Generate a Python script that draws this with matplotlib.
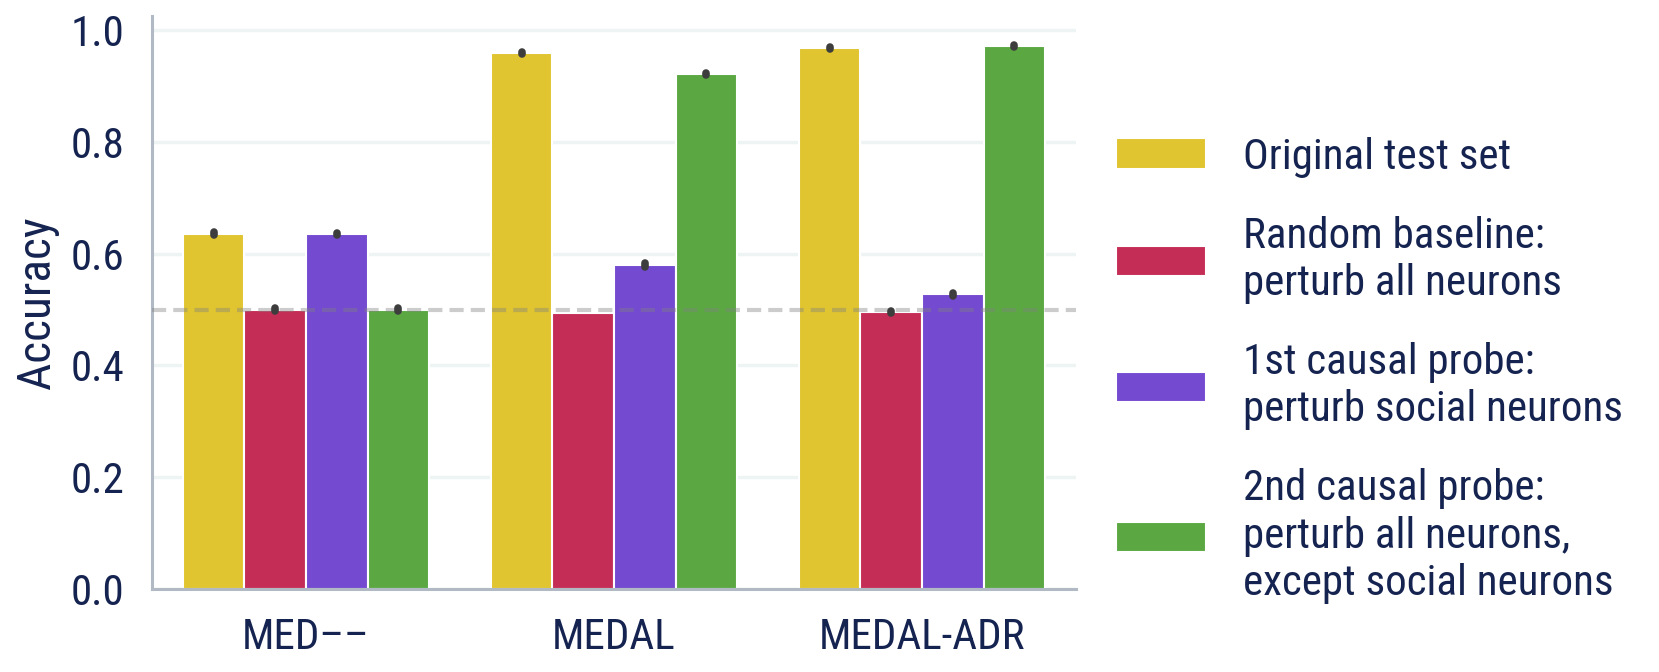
import matplotlib
matplotlib.use("Agg")
import matplotlib.pyplot as plt
from matplotlib import font_manager
import numpy as np

datasets = ["MED\u2013\u2013", "MEDAL", "MEDAL-ADR"]
conditions = [
    "Original test set",
    "Random baseline:\nperturb all neurons",
    "1st causal probe:\nperturb social neurons",
    "2nd causal probe:\nperturb all neurons,\nexcept social neurons",
]
original = [0.636, 0.959, 0.968]
random_base = [0.500, 0.494, 0.496]
probe1 = [0.635, 0.580, 0.527]
probe2 = [0.500, 0.921, 0.971]
# half-length of the (tiny) error bars, nan = not shown
err_original = [0.002, 0.002, 0.002]
err_random = [0.002, np.nan, 0.002]
err_probe1 = [0.002, 0.004, 0.003]
err_probe2 = [0.002, 0.002, 0.002]
chance = 0.5

colors = ["#e0c530", "#c42d56", "#744ad1", "#5ba843"]
text_color = "#152350"
spine_color = "#b1b9c4"

names = {f.name for f in font_manager.fontManager.ttflist}
family = "Roboto Condensed" if "Roboto Condensed" in names else "Roboto"
plt.rcParams["font.family"] = [family, "DejaVu Sans"]

fig = plt.figure(figsize=(16.59, 6.72), dpi=100)
ax = fig.add_axes([0.0916, 0.1235, 0.557, 0.8525])

series = [original, random_base, probe1, probe2]
errors = [err_original, err_random, err_probe1, err_probe2]
x = np.arange(len(datasets))
width = 0.2
offsets = (np.arange(4) - 1.5) * width

for vals, errs, off, col, lab in zip(series, errors, offsets, colors, conditions):
    ax.bar(x + off, vals, width, color=col, edgecolor="white", linewidth=1.5,
           label=lab, zorder=2)
    vals = np.array(vals)
    errs = np.array(errs)
    ok = ~np.isnan(errs)
    lc = ax.vlines((x + off)[ok], (vals - errs)[ok], (vals + errs)[ok],
                   color="#3d3d3d", linewidth=5.5, zorder=4)
    lc.set_capstyle("round")

ax.axhline(chance, color="gray", alpha=0.4, linewidth=3, dashes=(3.4, 1.7), zorder=3)

ax.set_xlim(-0.5, 2.5)
ax.set_ylim(0, 1.025)
ax.set_yticks([0, 0.2, 0.4, 0.6, 0.8, 1.0])
ax.set_yticklabels(["0.0", "0.2", "0.4", "0.6", "0.8", "1.0"])
ax.set_xticks(x)
ax.set_xticklabels(datasets)
ax.yaxis.grid(True, color="#eef4f3", linewidth=2.5, zorder=0)
ax.set_axisbelow(True)
ax.tick_params(axis="both", length=0, labelsize=31, colors=text_color, pad=20)
ax.set_ylabel("Accuracy", fontsize=34, color=text_color, labelpad=8)

for s in ["top", "right"]:
    ax.spines[s].set_visible(False)
for s in ["left", "bottom"]:
    ax.spines[s].set_color(spine_color)
    ax.spines[s].set_linewidth(2.2)

fig.legend(loc="center left", bbox_to_anchor=(0.6727, 0.449), frameon=False,
           fontsize=31, labelcolor=text_color, handlelength=2.08, handleheight=0.7,
           handletextpad=0.87, labelspacing=0.88, borderpad=0, borderaxespad=0)

fig.savefig("out.png", dpi=100)
